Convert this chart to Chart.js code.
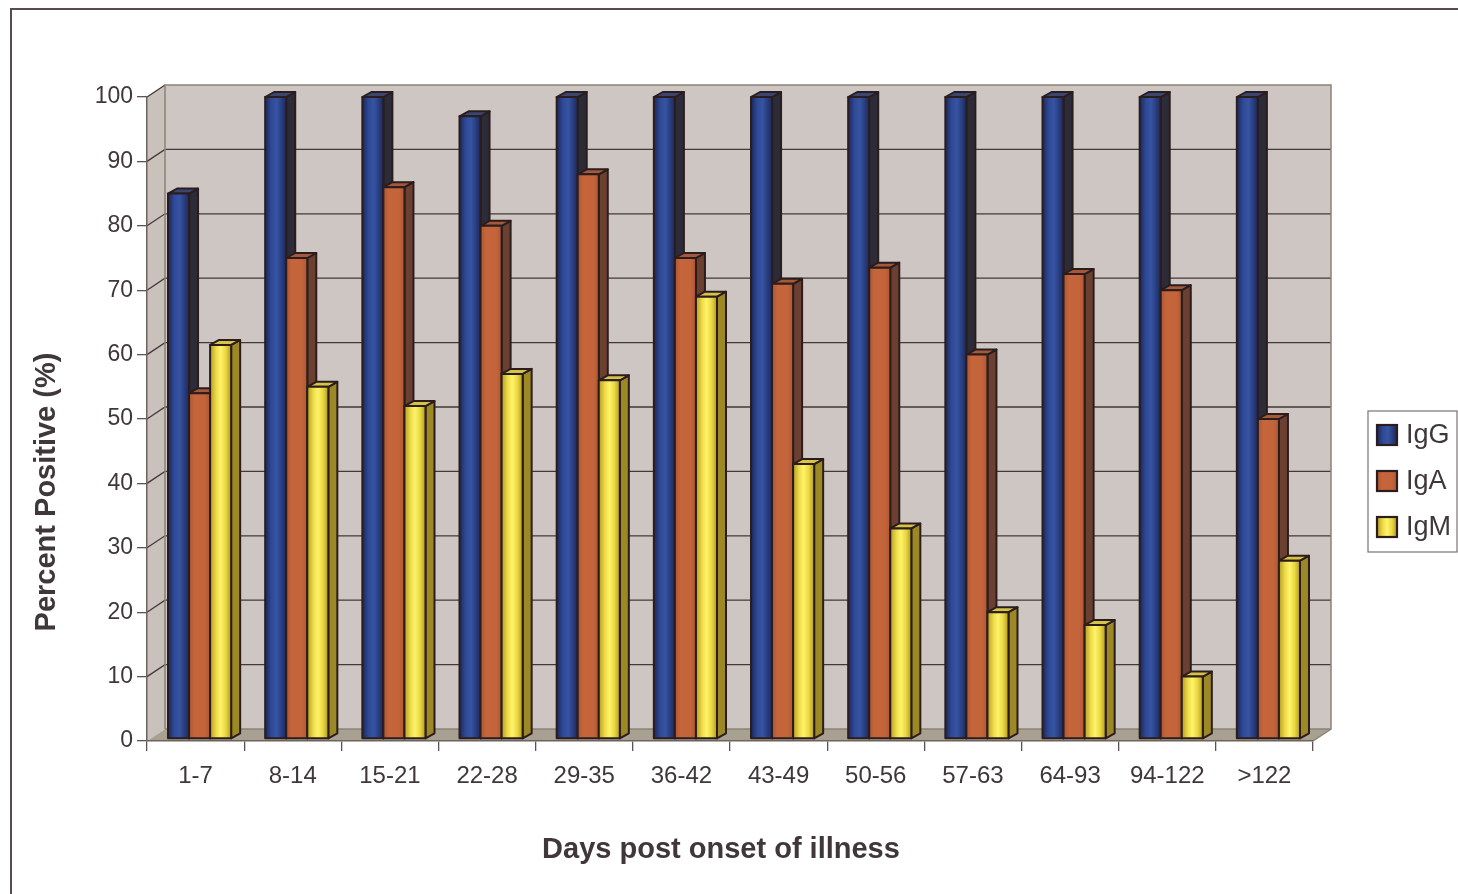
<!DOCTYPE html>
<html>
<head>
<meta charset="utf-8">
<title>Percent Positive by Days post onset of illness</title>
<script src="https://cdn.jsdelivr.net/npm/chart.js@4.4.1/dist/chart.umd.min.js"></script>
<style>
  html, body { margin: 0; padding: 0; background: #ffffff; }
  #wrap { position: relative; width: 1458px; height: 894px; }
  canvas { display: block; }
</style>
</head>
<body>
<div id="wrap"><canvas id="chart" width="1458" height="894"></canvas></div>
<script>
// Day ranges after onset of illness
const categories = ['1-7', '8-14', '15-21', '22-28', '29-35', '36-42', '43-49', '50-56', '57-63', '64-93', '94-122', '>122'];

// Percent of samples positive per antibody class
const igG = [85, 100, 100, 97, 100, 100, 100, 100, 100, 100, 100, 100];
const igA = [54, 75, 86, 80, 88, 75, 71, 73.5, 60, 72.5, 70, 50];
const igM = [61.5, 55, 52, 57, 56, 69, 43, 33, 20, 18, 10, 28];

const seriesNames = ['IgG', 'IgA', 'IgM'];
const yTicks = [0, 10, 20, 30, 40, 50, 60, 70, 80, 90, 100];

const FONT = '"Liberation Sans", Arial, Helvetica, sans-serif';
const TEXT = '#3f3739';

// Face colours for the extruded bars: front gradient stops, side, top
const faceStyles = [
  { front: [[0, '#1b275a'], [0.3, '#2f4a96'], [0.55, '#3654a3'], [1, '#1c285c']], side: '#2c2b38', top: '#3b4670' },
  { front: [[0, '#ad5732'], [0.25, '#c4653b'], [0.75, '#c3643a'], [1, '#ae5833']], side: '#6b4030', top: '#a3593a' },
  { front: [[0, '#b59d22'], [0.3, '#efdd4a'], [0.5, '#fff36a'], [0.75, '#e9d740'], [1, '#b09a22']], side: '#9c8824', top: '#d6c244' }
];
const OUTLINE = '#2b1d1e';

// Projection offsets of the box: chart walls and bar depth
const WALL_DX = 18, WALL_DY = 12;
const BAR_DX = 9, BAR_DY = 5;
const BAR_SHIFT = 4;

const wallPlugin = {
  id: 'wall3d',
  beforeDraw(chart) {
    const { ctx, chartArea: a, scales } = chart;
    const y = scales.y;
    ctx.save();
    // page frame
    ctx.strokeStyle = '#564c50';
    ctx.lineWidth = 2;
    ctx.beginPath();
    ctx.moveTo(11, 894);
    ctx.lineTo(11, 9);
    ctx.lineTo(1458, 9);
    ctx.stroke();

    const L = a.left, R = a.right, T = a.top, B = a.bottom;
    // back wall
    ctx.fillStyle = '#cec6c2';
    ctx.fillRect(L + WALL_DX, T - WALL_DY, R - L, B - T);
    // left side wall
    ctx.fillStyle = '#c9c1bc';
    ctx.beginPath();
    ctx.moveTo(L, T); ctx.lineTo(L + WALL_DX, T - WALL_DY);
    ctx.lineTo(L + WALL_DX, B - WALL_DY); ctx.lineTo(L, B);
    ctx.closePath(); ctx.fill();
    // floor
    ctx.fillStyle = '#a8a091';
    ctx.beginPath();
    ctx.moveTo(L, B); ctx.lineTo(R, B);
    ctx.lineTo(R + WALL_DX, B - WALL_DY); ctx.lineTo(L + WALL_DX, B - WALL_DY);
    ctx.closePath(); ctx.fill();

    // grid lines on the back and side walls
    ctx.strokeStyle = '#463838';
    ctx.lineWidth = 1.3;
    yTicks.forEach(v => {
      if (v === 0) return;
      const py = y.getPixelForValue(v);
      ctx.beginPath();
      ctx.moveTo(L, py);
      ctx.lineTo(L + WALL_DX, py - WALL_DY);
      if (v !== 100) ctx.lineTo(R + WALL_DX, py - WALL_DY);
      ctx.stroke();
    });
    // wall outlines
    ctx.strokeStyle = '#8c8276';
    ctx.lineWidth = 1.5;
    ctx.beginPath();
    ctx.moveTo(L + WALL_DX, B - WALL_DY);
    ctx.lineTo(L + WALL_DX, T - WALL_DY);
    ctx.lineTo(R + WALL_DX, T - WALL_DY);
    ctx.lineTo(R + WALL_DX, B - WALL_DY);
    ctx.lineTo(R, B);
    ctx.stroke();
    ctx.beginPath();
    ctx.moveTo(L + WALL_DX, B - WALL_DY);
    ctx.lineTo(R + WALL_DX, B - WALL_DY);
    ctx.stroke();
    ctx.restore();
  },
  afterDatasetsDraw(chart) {
    const { ctx } = chart;
    ctx.save();
    ctx.lineJoin = 'round';
    ctx.lineWidth = 2;
    ctx.strokeStyle = OUTLINE;
    chart.data.datasets.forEach((ds, i) => {
      const meta = chart.getDatasetMeta(i);
      const st = faceStyles[i];
      meta.data.forEach(bar => {
        const p = bar.getProps(['x', 'y', 'base', 'width'], true);
        const l = p.x - p.width / 2 + BAR_SHIFT;
        const r = p.x + p.width / 2 + BAR_SHIFT;
        const t = p.y, b = p.base - 2;
        // side face
        ctx.fillStyle = st.side;
        ctx.beginPath();
        ctx.moveTo(r, t); ctx.lineTo(r + BAR_DX, t - BAR_DY);
        ctx.lineTo(r + BAR_DX, b - BAR_DY); ctx.lineTo(r, b);
        ctx.closePath(); ctx.fill(); ctx.stroke();
        // top face
        ctx.fillStyle = st.top;
        ctx.beginPath();
        ctx.moveTo(l, t); ctx.lineTo(l + BAR_DX, t - BAR_DY);
        ctx.lineTo(r + BAR_DX, t - BAR_DY); ctx.lineTo(r, t);
        ctx.closePath(); ctx.fill(); ctx.stroke();
        // front face
        const g = ctx.createLinearGradient(l, 0, r, 0);
        st.front.forEach(s => g.addColorStop(s[0], s[1]));
        ctx.fillStyle = g;
        ctx.fillRect(l, t, r - l, b - t);
        ctx.strokeRect(l, t, r - l, b - t);
      });
    });
    ctx.restore();
  },
  afterDraw(chart) {
    const { ctx } = chart;
    ctx.save();
    ctx.fillStyle = TEXT;
    // axis titles
    ctx.font = 'bold 29px ' + FONT;
    ctx.textAlign = 'center';
    ctx.textBaseline = 'middle';
    ctx.fillText('Days post onset of illness', 721, 850);
    ctx.translate(47, 492);
    ctx.rotate(-Math.PI / 2);
    ctx.fillText('Percent Positive (%)', 0, 0);
    ctx.restore();

    // legend box
    ctx.save();
    const lx = 1368, ly = 411, lw = 89, lh = 141;
    ctx.fillStyle = '#ffffff';
    ctx.fillRect(lx, ly, lw, lh);
    ctx.strokeStyle = '#7a7274';
    ctx.lineWidth = 1.2;
    ctx.strokeRect(lx, ly, lw, lh);
    chart.data.datasets.forEach((ds, i) => {
      const cy = 435 + i * 46;
      const st = faceStyles[i];
      const g = ctx.createLinearGradient(lx + 9, 0, lx + 29, 0);
      st.front.forEach(s => g.addColorStop(s[0], s[1]));
      ctx.fillStyle = g;
      ctx.fillRect(lx + 9, cy - 10, 20, 20);
      ctx.strokeStyle = OUTLINE;
      ctx.lineWidth = 2.2;
      ctx.strokeRect(lx + 9, cy - 10, 20, 20);
      ctx.fillStyle = TEXT;
      ctx.font = '27px ' + FONT;
      ctx.textAlign = 'left';
      ctx.textBaseline = 'middle';
      ctx.fillText(ds.label, lx + 38, cy + 1);
    });
    ctx.restore();
  }
};

const datasets = [igG, igA, igM].map((values, i) => ({
  label: seriesNames[i],
  data: values,
  backgroundColor: 'rgba(0,0,0,0)',
  borderWidth: 0,
  categoryPercentage: 0.65,
  barPercentage: 1.0
}));

new Chart(document.getElementById('chart'), {
  type: 'bar',
  data: { labels: categories, datasets },
  plugins: [wallPlugin],
  options: {
    responsive: false,
    animation: false,
    devicePixelRatio: 1,
    layout: { padding: { left: 0, top: 97, right: 145, bottom: 0 } },
    plugins: { legend: { display: false }, tooltip: { enabled: false } },
    scales: {
      x: {
        grid: { display: true, drawOnChartArea: false, drawTicks: true, tickLength: 10, color: '#5e5252', lineWidth: 1.3, offset: true },
        border: { display: true, color: '#6e625a', width: 1.5 },
        ticks: { color: TEXT, font: { family: FONT, size: 24 }, padding: 11, maxRotation: 0, autoSkip: false },
        afterFit(scale) { scale.height = 153; }
      },
      y: {
        min: 0,
        max: 100,
        afterBuildTicks(scale) { scale.ticks = yTicks.map(v => ({ value: v })); },
        grid: { display: true, drawOnChartArea: false, drawTicks: true, tickLength: 10, color: '#5e5252', lineWidth: 1.3 },
        border: { display: true, color: '#6e625a', width: 1.5 },
        ticks: { color: TEXT, font: { family: FONT, size: 23 }, padding: 4 },
        afterFit(scale) { scale.width = 147; }
      }
    }
  }
});
</script>
</body>
</html>
